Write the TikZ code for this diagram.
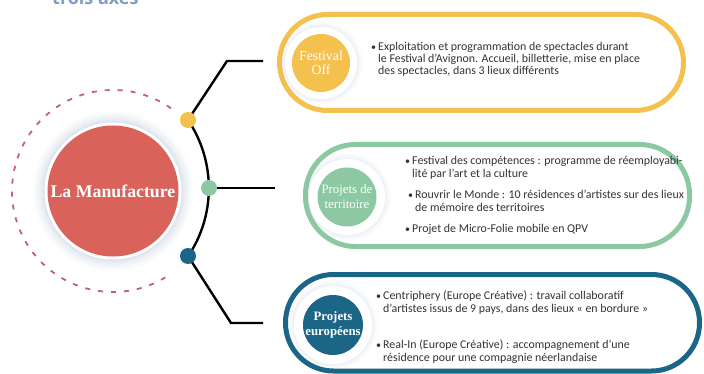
\documentclass[tikz,border=0pt]{standalone}
\usepackage{fontspec}
\setmainfont{Carlito}
\newfontfamily\serifL{Liberation Serif}
\newfontfamily\titlef{Open Sans}
\definecolor{yel}{HTML}{F4C04E}
\definecolor{grn}{HTML}{8CC9A3}
\definecolor{blu}{HTML}{1B6587}
\definecolor{mred}{HTML}{D9635A}
\definecolor{dashc}{HTML}{C0607E}
\definecolor{txt}{HTML}{333333}
\definecolor{ttl}{HTML}{7F9DC4}
\definecolor{shd}{HTML}{9FB0CC}
\tikzset{
  conn/.style={line width=2.4pt, black},
  dotn/.style={circle, inner sep=0pt, minimum size=16pt},
  panel/.style={line width=5pt, fill=white},
  line/.style={anchor=base west, inner sep=0pt, text=txt, font=\fontsize{11.9}{13}\selectfont},
  bul/.style={anchor=base west, inner sep=0pt, text=txt, font=\fontsize{10}{12}\selectfont},
  lab/.style={align=center, text=white, inner sep=0pt},
}
\begin{document}
\begin{tikzpicture}[x=1pt,y=-1pt]
\useasboundingbox (0,0) rectangle (704,374);
\clip (0,0) rectangle (704,374);
\fill[white] (0,0) rectangle (704,374);

% title (cut off)
\node[anchor=base west, inner sep=0pt, text=ttl, font=\titlef\bfseries\fontsize{18}{18}\selectfont] (title) at (52,4.5) {trois axes};

% dashed ring
\draw[dashc, line width=1.8pt, dash pattern=on 5pt off 8pt] (113,191) ++(-55:101) arc[start angle=-55, end angle=-305, radius=101];

% main circle with glow
\foreach \r/\o in {80/0.03,78/0.04,76/0.05,74/0.06,72/0.08,70/0.10} \fill[shd, opacity=\o] (113,191) circle (\r);
\fill[white] (113,191) circle (68.5);
\node[circle, fill=mred, minimum size=131pt, inner sep=0pt, text=white, font=\serifL\bfseries\fontsize{17.8}{18}\selectfont] (mc) at (113,191) {La Manufacture};

% connectors
\coordinate (eY) at (263,61);
\coordinate (kY) at (227,61);
\coordinate (eG) at (275,188);
\coordinate (eB) at (263,323);
\coordinate (kB) at (231,323);
\node[dotn] (dY) at (188,120) {};
\node[dotn] (dG) at (209,188) {};
\node[dotn] (dB) at (188,256) {};
\draw[conn] (dY.center) arc[start angle=-34, end angle=34, radius=122];
\draw[conn] (dY.center) -- (kY) -- (eY);
\draw[conn] (dG.center) -- (eG);
\draw[conn] (dB.center) -- (kB) -- (eB);
\fill[yel] (dY) circle (8);
\fill[grn] (dG) circle (8);
\fill[blu] (dB) circle (8);

% panel 1
\draw[panel, draw=yel, rounded corners=48pt] (279.5,14.5) rectangle (683.5,110.5);
\foreach \r/\o in {42/0.03,40/0.05,38/0.08} \fill[shd, opacity=\o] (321,63) circle (\r);
\fill[white] (321,63) circle (36);
\node[circle, fill=yel, minimum size=58pt, inner sep=0pt] (c1) at (321,63) {};
\node[lab, font=\serifL\fontsize{13.8}{13.5}\selectfont] (l1) at (c1) {Festival\\Off};
\node[bul] (b1a) at (371,50.5) {•};
\node[line] (t1a) at (378,50.5) {Exploitation et programmation de spectacles durant};
\node[line] (t1b) at (378,62.5) {le Festival d’Avignon. Accueil, billetterie, mise en place};
\node[line] (t1c) at (378,74.5) {des spectacles, dans 3 lieux différents};

% panel 2
\draw[panel, draw=grn, rounded corners=50pt] (305.5,144.5) rectangle (689.5,246.5);
\foreach \r/\o in {44/0.03,42/0.05,40/0.08} \fill[shd, opacity=\o] (347,197) circle (\r);
\fill[white] (347,197) circle (38);
\node[circle, fill=grn, minimum size=59pt, inner sep=0pt] (c2) at (347,197) {};
\node[lab, font=\serifL\fontsize{12.8}{15}\selectfont] (l2) at (c2) {Projets de\\territoire};
\node[bul] (b2a) at (405,164.5) {•};
\node[line] (t2a) at (412,164.5) {Festival des compétences : programme de réemployabi-};
\node[line] (t2b) at (412,177.5) {lité par l’art et la culture};
\node[bul] (b2b) at (408,198.5) {•};
\node[line] (t2c) at (415,198.5) {Rouvrir le Monde : 10 résidences d’artistes sur des lieux};
\node[line] (t2d) at (415,211.5) {de mémoire des territoires};
\node[bul] (b2c) at (405,232.5) {•};
\node[line] (t2e) at (412,232.5) {Projet de Micro-Folie mobile en QPV};

% panel 3
\draw[panel, draw=blu, rounded corners=48pt] (285.5,274.5) rectangle (699.5,371);
\foreach \r/\o in {45/0.03,43/0.05,41/0.08} \fill[shd, opacity=\o] (333,325) circle (\r);
\fill[white] (333,325) circle (39);
\node[circle, fill=blu, minimum size=60pt, inner sep=0pt] (c3) at (333,325) {};
\node[lab, font=\serifL\bfseries\fontsize{12.8}{15}\selectfont] (l3) at (c3) {Projets\\européens};
\node[bul] (b3a) at (376,299.5) {•};
\node[line] (t3a) at (383,299.5) {Centriphery (Europe Créative) : travail collaboratif};
\node[line] (t3b) at (383,312.5) {d’artistes issus de 9 pays, dans des lieux « en bordure »};
\node[bul] (b3b) at (376,348.5) {•};
\node[line] (t3c) at (383,348.5) {Real-In (Europe Créative) : accompagnement d’une};
\node[line] (t3d) at (383,361.5) {résidence pour une compagnie néerlandaise};
\end{tikzpicture}
\end{document}
